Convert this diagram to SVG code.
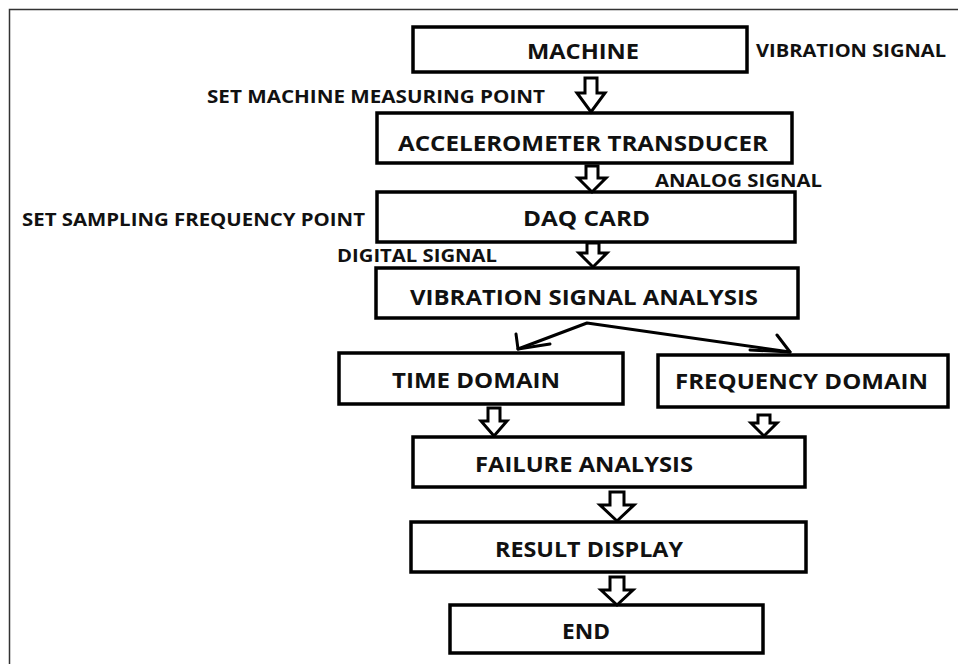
<svg xmlns="http://www.w3.org/2000/svg" width="958" height="664" viewBox="0 0 958 664">
<style>
.box{fill:#fff;stroke:#000;stroke-width:3.5}
.t{font-family:"Open Sans","Liberation Sans",Arial,sans-serif;font-weight:700;fill:#111}
.n{font-size:22px}
.s{font-size:18.5px}
.arr{fill:#fff;stroke:#000;stroke-width:3;stroke-linejoin:miter}
.ln{fill:none;stroke:#000;stroke-width:3;stroke-linecap:round;stroke-linejoin:round}
</style>
<rect x="0" y="0" width="958" height="664" fill="#fff"/>
<path d="M9.5,664 V9.5 H958" fill="none" stroke="#333" stroke-width="1.5"/>

<g id="machine"><rect class="box" x="413" y="27" width="334" height="45"/><text class="t n" x="527" y="59" textLength="112" lengthAdjust="spacingAndGlyphs">MACHINE</text></g>
<g id="label-vibration-signal"><text class="t s" x="756" y="57" textLength="190" lengthAdjust="spacingAndGlyphs">VIBRATION SIGNAL</text></g>
<g id="label-set-machine"><text class="t s" x="207" y="103" textLength="338" lengthAdjust="spacingAndGlyphs">SET MACHINE MEASURING POINT</text></g>
<g id="accelerometer"><rect class="box" x="377" y="113" width="415" height="50"/><text class="t n" x="398" y="151" textLength="370" lengthAdjust="spacingAndGlyphs">ACCELEROMETER TRANSDUCER</text></g>
<g id="label-analog"><text class="t s" x="655" y="187" textLength="167" lengthAdjust="spacingAndGlyphs">ANALOG SIGNAL</text></g>
<g id="daq"><rect class="box" x="377" y="192" width="418" height="50"/><text class="t n" x="523" y="226" textLength="127" lengthAdjust="spacingAndGlyphs">DAQ CARD</text></g>
<g id="label-set-sampling"><text class="t s" x="22" y="226" textLength="343" lengthAdjust="spacingAndGlyphs">SET SAMPLING FREQUENCY POINT</text></g>
<g id="label-digital"><text class="t s" x="337" y="262" textLength="160" lengthAdjust="spacingAndGlyphs">DIGITAL SIGNAL</text></g>
<g id="vsa"><rect class="box" x="376" y="268" width="422" height="50"/><text class="t n" x="410" y="305" textLength="348" lengthAdjust="spacingAndGlyphs">VIBRATION SIGNAL ANALYSIS</text></g>
<g id="time-domain"><rect class="box" x="339" y="353" width="284" height="51"/><text class="t n" x="392" y="388" textLength="168" lengthAdjust="spacingAndGlyphs">TIME DOMAIN</text></g>
<g id="frequency-domain"><rect class="box" x="658" y="355" width="290" height="52"/><text class="t n" x="675" y="389" textLength="253" lengthAdjust="spacingAndGlyphs">FREQUENCY DOMAIN</text></g>
<g id="failure-analysis"><rect class="box" x="413" y="437" width="392" height="50"/><text class="t n" x="475" y="472" textLength="218" lengthAdjust="spacingAndGlyphs">FAILURE ANALYSIS</text></g>
<g id="result-display"><rect class="box" x="411" y="522" width="395" height="50"/><text class="t n" x="495" y="557" textLength="188" lengthAdjust="spacingAndGlyphs">RESULT DISPLAY</text></g>
<g id="end"><rect class="box" x="450" y="605" width="313" height="48"/><text class="t n" x="562" y="639" textLength="48" lengthAdjust="spacingAndGlyphs">END</text></g>

<g id="connectors">
<path class="arr" d="M585,78 H597 V93 H605 L591,112 L577,93 H585 Z"/>
<path class="arr" d="M586,166 H598 V178 H606 L592,192 L578,178 H586 Z"/>
<path class="arr" d="M587,243 H599 V253 H607 L593,267 L579,253 H587 Z"/>
<path class="arr" d="M488,408 H500 V421 H507 L494,436 L481,421 H488 Z"/>
<path class="arr" d="M758,415 H770 V423 H777 L764,436 L751,423 H758 Z"/>
<path class="arr" d="M610,492 H624 V505 H634 L617,521 L600,505 H610 Z"/>
<path class="arr" d="M610,577 H624 V590 H633 L617,605 L601,590 H610 Z"/>
<polyline class="ln" points="518,349 587,323 790,352"/>
<polyline class="ln" points="516,334 518,349 550,344"/>
<polyline class="ln" points="777,335 790,352 750,350"/>
</g>
</svg>
